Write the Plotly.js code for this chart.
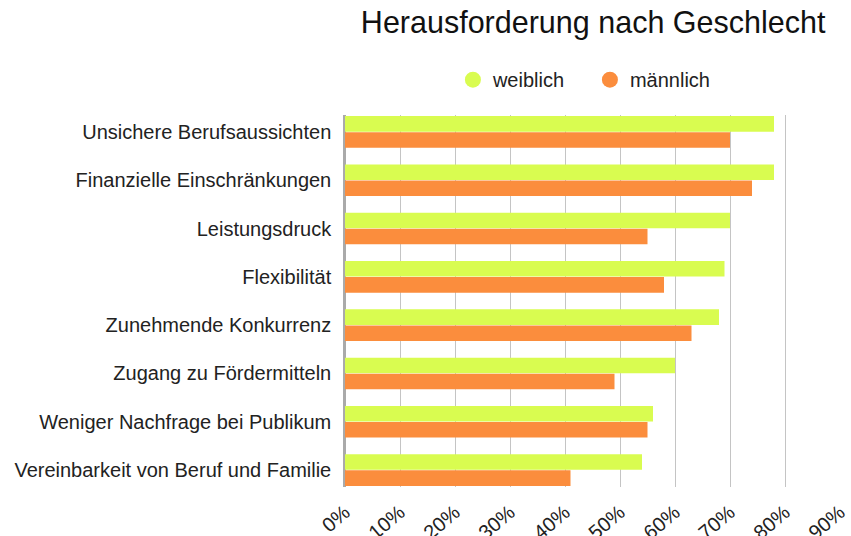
<!DOCTYPE html>
<html>
<head>
<meta charset="utf-8">
<script src="https://cdn.plot.ly/plotly-3.0.1.min.js"></script>
<style>html,body{margin:0;padding:0;background:#fff;}#chart{width:851px;height:536px;}</style>
</head>
<body>
<div id="chart"></div>
<script>
const categories = [
  "Unsichere Berufsaussichten",
  "Finanzielle Einschränkungen",
  "Leistungsdruck",
  "Flexibilität",
  "Zunehmende Konkurrenz",
  "Zugang zu Fördermitteln",
  "Weniger Nachfrage bei Publikum",
  "Vereinbarkeit von Beruf und Familie"
];
const weiblich = [0.78, 0.78, 0.70, 0.69, 0.68, 0.60, 0.56, 0.54];
const maennlich = [0.70, 0.74, 0.55, 0.58, 0.63, 0.49, 0.55, 0.41];
const seriesNames = ["weiblich", "männlich"];
const tickVals = [0, 0.1, 0.2, 0.3, 0.4, 0.5, 0.6, 0.7, 0.8, 0.9];
const tickLabels = ["0%", "10%", "20%", "30%", "40%", "50%", "60%", "70%", "80%", "90%"];

const colors = ["#D9FC50", "#FB8D3D"];
const font = "Liberation Sans, Arial, sans-serif";

const traces = [
  {type: "bar", orientation: "h", name: seriesNames[0], y: categories, x: weiblich,
   marker: {color: colors[0]}, showlegend: false, legendgroup: "w", hoverinfo: "x+y"},
  {type: "bar", orientation: "h", name: seriesNames[1], y: categories, x: maennlich,
   marker: {color: colors[1]}, showlegend: false, legendgroup: "m", hoverinfo: "x+y"},
  {type: "scatter", mode: "markers", name: seriesNames[0], x: [null], y: [null],
   marker: {color: colors[0], size: 19, symbol: "circle"}, legendgroup: "w"},
  {type: "scatter", mode: "markers", name: seriesNames[1], x: [null], y: [null],
   marker: {color: colors[1], size: 19, symbol: "circle"}, legendgroup: "m"}
];

const layout = {
  width: 851, height: 536,
  margin: {l: 345, r: 11, t: 115, b: 49},
  paper_bgcolor: "#fff", plot_bgcolor: "#fff",
  font: {family: font, color: "#222", size: 20},
  title: {text: "Herausforderung nach Geschlecht", x: 0.697, xanchor: "center", y: 0.958, yanchor: "middle",
          font: {family: font, size: 30.5, color: "#111"}},
  barmode: "group", bargap: 0.335, bargroupgap: 0.03,
  showlegend: true,
  legend: {orientation: "h", x: 0.218, xanchor: "left", y: 1.095, yanchor: "middle",
           entrywidth: 92, entrywidthmode: "pixels",
           font: {size: 20, family: font, color: "#222"}, itemwidth: 30, traceorder: "normal"},
  xaxis: {range: [0, 0.9], tickvals: tickVals, ticktext: tickLabels, tickangle: -40,
          showgrid: true, gridcolor: "#C4C4C4", gridwidth: 1.3, zeroline: true, zerolinecolor: "#AAAAAA", zerolinewidth: 1.5,
          showline: false, ticks: "", ticklabelstandoff: 9, tickfont: {size: 20, family: font, color: "#222"}, fixedrange: true},
  yaxis: {type: "category", categoryorder: "array", categoryarray: categories, range: [7.35, -0.35],
          showgrid: false, ticks: "", ticklabelstandoff: 8, showline: true, linecolor: "#AAAAAA", linewidth: 1.5,
          tickfont: {size: 20, family: font, color: "#222"}, fixedrange: true}
};

Plotly.newPlot("chart", traces, layout, {displayModeBar: false, responsive: false});
</script>
</body>
</html>
